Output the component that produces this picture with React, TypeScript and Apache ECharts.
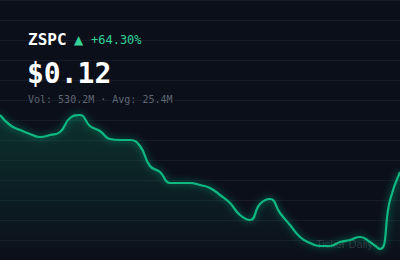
import React, { useEffect, useRef } from "react";
import * as echarts from "echarts";

const ticker = "ZSPC";
const changeText = "+64.30%";
const priceText = "$0.12";
const volumeText = "Vol: 530.2M · Avg: 25.4M";
const watermark = "Ticker Daily";

const days: string[] = Array.from({ length: 41 }, (_, i) => `D${i + 1}`);
const prices: number[] = [
  0.1525, 0.1475, 0.145, 0.143, 0.1415, 0.1425, 0.144, 0.151, 0.1525, 0.147,
  0.1445, 0.1405, 0.14, 0.14, 0.137, 0.127, 0.124, 0.1185, 0.1185, 0.1185,
  0.1175, 0.116, 0.1125, 0.1085, 0.1025, 0.1, 0.108, 0.1105, 0.1035, 0.0975,
  0.0915, 0.0885, 0.087, 0.087, 0.089, 0.09, 0.0915, 0.089, 0.0855, 0.11,
  0.124,
];

const GREEN = "#10b981";
const MINT = "#34d399";
const MONO = "'DejaVu Sans Mono', monospace";

export default function App() {
  const ref = useRef<HTMLDivElement>(null);
  useEffect(() => {
    document.body.style.margin = "0";
    const chart = echarts.init(ref.current!, null, { renderer: "svg" });
    chart.setOption({
      animation: false,
      backgroundColor: "#0b0f1a",
      grid: { left: 0, right: 0, top: 0, bottom: 0 },
      xAxis: {
        type: "category",
        data: days,
        boundaryGap: false,
        show: false,
      },
      yAxis: {
        type: "value",
        min: 0.08,
        max: 0.21,
        interval: 0.01,
        axisLabel: { show: false },
        axisLine: { show: false },
        axisTick: { show: false },
        splitLine: { show: true, lineStyle: { color: "#161b27", width: 1 } },
      },
      series: [
        {
          type: "line",
          data: prices,
          smooth: 0.5,
          symbol: "none",
          z: 3,
          lineStyle: {
            color: GREEN,
            width: 2.2,
            shadowBlur: 7,
            shadowColor: "rgba(16,185,129,0.75)",
          },
          areaStyle: {
            color: new echarts.graphic.LinearGradient(0, 0, 0, 1, [
              { offset: 0, color: "rgba(16,185,129,0.28)" },
              { offset: 1, color: "rgba(16,185,129,0)" },
            ]),
          },
        },
      ],
      graphic: [
        {
          type: "text",
          x: 28,
          y: 39,
          z: 100,
          style: { text: ticker, fill: "#ffffff", font: `bold 16px ${MONO}`, verticalAlign: "middle" },
        },
        {
          type: "text",
          x: 74,
          y: 40,
          z: 100,
          style: { text: "▲", fill: MINT, font: "12px 'DejaVu Sans', sans-serif", verticalAlign: "middle" },
        },
        {
          type: "text",
          x: 91,
          y: 40,
          z: 100,
          style: { text: changeText, fill: MINT, font: `12px ${MONO}`, verticalAlign: "middle" },
        },
        {
          type: "text",
          x: 27,
          y: 73,
          z: 100,
          style: { text: priceText, fill: "#ffffff", font: `bold 28px ${MONO}`, verticalAlign: "middle" },
        },
        {
          type: "text",
          x: 28,
          y: 99,
          z: 100,
          style: { text: volumeText, fill: "#5f6673", font: `10px ${MONO}`, verticalAlign: "middle" },
        },
        {
          type: "text",
          x: 316,
          y: 244,
          z: 1,
          style: { text: watermark, fill: "rgba(255,255,255,0.16)", font: "11px 'Liberation Sans', Arial, sans-serif", verticalAlign: "middle" },
        },
      ],
    });
    return () => chart.dispose();
  }, []);
  return <div ref={ref} style={{ position: "fixed", left: 0, top: 0, width: 400, height: 260 }} />;
}
